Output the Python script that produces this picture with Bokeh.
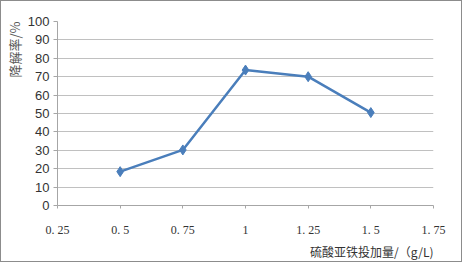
import math
from bokeh.plotting import figure
from bokeh.models import FixedTicker, Range1d, Title
from bokeh.embed import file_html
from bokeh.resources import INLINE

dose = [0.5, 0.75, 1.0, 1.25, 1.5]
rate = [18.4, 30.2, 73.6, 70.0, 50.5]
x_ticks = [0.25, 0.5, 0.75, 1.0, 1.25, 1.5, 1.75]
x_tick_labels = ["0. 25", "0. 5", "0. 75", "1", "1. 25", "1. 5", "1. 75"]
y_ticks = [0, 10, 20, 30, 40, 50, 60, 70, 80, 90, 100]
x_title = "硫酸亚铁投加量/（g/L)"
y_title = "降解率/%"

p = figure(width=456, height=256, frame_width=376, frame_height=184,
           output_backend="svg", toolbar_location=None,
           x_range=Range1d(0.25, 1.75), y_range=Range1d(0, 100),
           min_border_left=52, min_border_right=28, min_border_top=20, min_border_bottom=52)
p.styles = {"border": "1px solid #8c8c8c", "box-sizing": "border-box"}
p.outline_line_color = None
p.background_fill_color = "white"

p.xgrid.grid_line_color = None
p.ygrid.grid_line_color = "#c0c0c0"
p.ygrid.grid_line_width = 1

p.xaxis.ticker = FixedTicker(ticks=x_ticks)
p.xaxis.major_label_overrides = {t: l for t, l in zip(x_ticks, x_tick_labels)}
p.xaxis.major_label_text_font = "Liberation Serif"
p.xaxis.major_label_text_font_size = "12px"
p.xaxis.major_label_text_color = "#333333"
p.xaxis.major_label_standoff = 14
p.xaxis.axis_line_color = "#a6a6a6"
p.xaxis.major_tick_line_color = "#a6a6a6"
p.xaxis.major_tick_out = 3
p.xaxis.major_tick_in = 0
p.xaxis.minor_tick_line_color = None

p.yaxis.ticker = FixedTicker(ticks=y_ticks)
p.yaxis.major_label_text_font = "Liberation Sans"
p.yaxis.major_label_text_font_size = "13px"
p.yaxis.major_label_text_color = "#333333"
p.yaxis.major_label_standoff = 4
p.yaxis.axis_line_color = "#a6a6a6"
p.yaxis.major_tick_line_color = "#a6a6a6"
p.yaxis.major_tick_out = 4
p.yaxis.major_tick_in = 0
p.yaxis.minor_tick_line_color = None

p.line(dose, rate, line_color="#4a7ebb", line_width=2.5)
p.scatter(dose, rate, marker="diamond", size=10, fill_color="#4a7ebb", line_color="#4a7ebb")

p.add_layout(Title(text=x_title, align="right", text_font="Noto Sans CJK SC",
                   text_font_size="12px", text_font_style="normal", text_color="#333333",
                   standoff=3), "below")
p.add_layout(Title(text=y_title, align="right", text_font="Noto Sans CJK SC",
                   text_font_size="13px", text_font_style="normal", text_color="#595959",
                   standoff=2), "left")

open("out.html", "w").write(file_html(p, INLINE))
